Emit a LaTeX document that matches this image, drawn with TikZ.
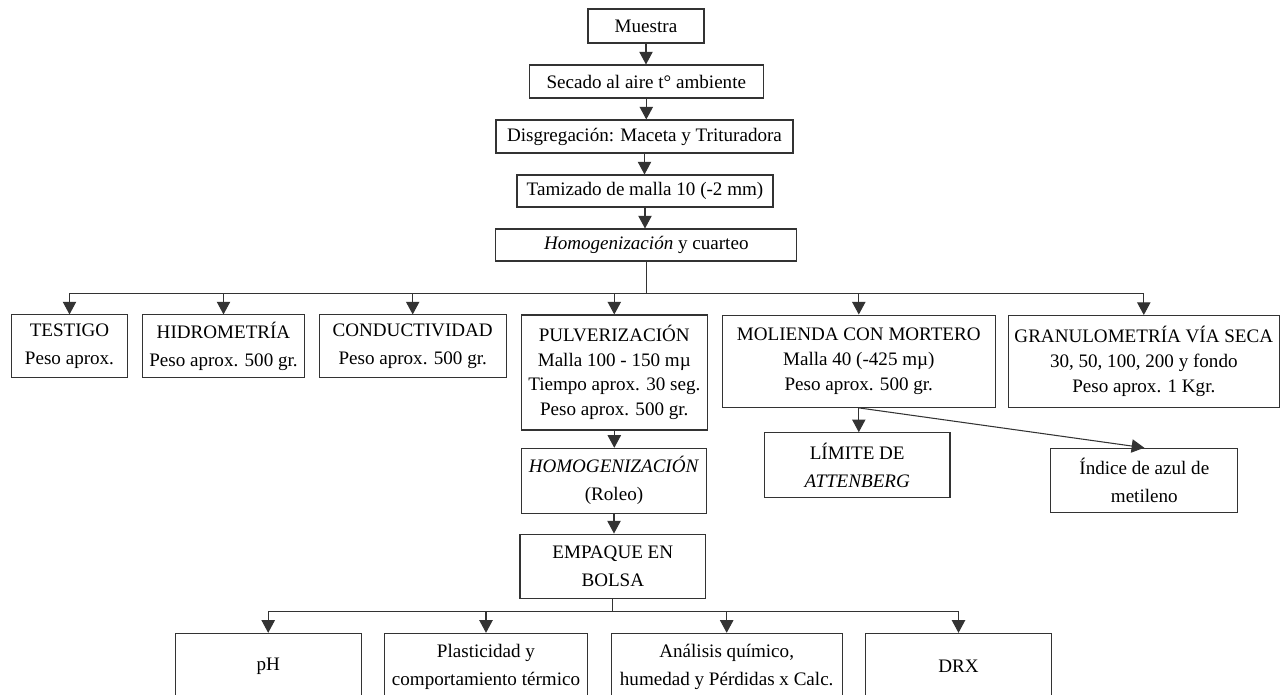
\documentclass[tikz,border=0pt]{standalone}
\usepackage{fontspec}
\setmainfont{Liberation Serif}
\usetikzlibrary{arrows.meta}
\definecolor{linec}{HTML}{333333}
\tikzset{
  box/.style 2 args={draw=linec, line width=0.6pt, minimum width=#1*0.02cm, minimum height=#2*0.02cm,
    inner sep=0pt, align=center, text=black, font=\fontsize{10.86}{14}\selectfont},
  conn/.style={draw=linec, line width=0.6pt},
  arr/.style={conn, -{Triangle[width=7.6pt,length=7.2pt]}}
}
\begin{document}
\begin{tikzpicture}[x=0.02cm,y=-0.02cm]
\clip (0,0) rectangle (1282,694);
% main chain
\node[box={116}{34}] (muestra) at (646,26) {Muestra};
\node[box={234}{33}] (secado) at (646.3,81.5) {Secado al aire t° ambiente};
\node[box={297}{33}] (disg) at (644.5,136.5) {Disgregación: Maceta y Trituradora};
\node[box={256}{32}] (tam) at (645,191) {Tamizado de malla 10 (-2 mm)};
\node[box={301}{32}] (homog) at (646.3,245) {\textit{Homogenización} y cuarteo};
\coordinate (bus) at (0,293.3);
\coordinate (bus2) at (0,611.5);
% first row
\node[box={115.6}{62.7}] (testigo) at (69.5,346.3) {TESTIGO\\[1.5pt]Peso aprox.};
\node[box={161.6}{62.7}] (hidro) at (223.5,346.3) {HIDROMETRÍA\\[1.5pt]Peso aprox. 500 gr.};
\node[box={186.7}{62.7}] (cond) at (412.7,346.3) {CONDUCTIVIDAD\\[1.5pt]Peso aprox. 500 gr.};
\node[box={186.5}{115}] (pulv) at (614.3,372.5) {PULVERIZACIÓN\\Malla 100 - 150 mµ\\Tiempo aprox. 30 seg.\\Peso aprox. 500 gr.};
\node[box={272.5}{92.3}] (molienda) at (858.8,361.2) {MOLIENDA CON MORTERO\\Malla 40 (-425 mµ)\\Peso aprox. 500 gr.};
\node[box={271}{91.8}] (granulo) at (1143.8,361.4) {GRANULOMETRÍA VÍA SECA\\30, 50, 100, 200 y fondo\\Peso aprox. 1 Kgr.};
% second level
\node[box={185.6}{64.6}] (limite) at (857.2,465) {LÍMITE DE\\[2pt]\textit{ATTENBERG}};
\node[box={186.7}{64.2}] (indice) at (1144.3,480.4) {Índice de azul de\\[2pt]metileno};
\node[box={185.5}{64.7}] (homog2) at (614,480.7) {\textit{HOMOGENIZACIÓN}\\[2pt](Roleo)};
\node[box={185.6}{64.3}] (empaque) at (612.8,566.2) {EMPAQUE EN\\[2pt]BOLSA};
% bottom row
\node[box={185.7}{66.7}] (ph) at (268.2,666.7) {pH};
\node[box={202.7}{66.7}] (plast) at (486,666.7) {Plasticidad y\\[2pt]comportamiento térmico};
\node[box={230.7}{66.7}] (anal) at (726.7,666.7) {Análisis químico,\\[2pt]humedad y Pérdidas x Calc.};
\node[box={186.3}{66.7}] (drx) at (958.5,666.7) {DRX};
% connectors main chain
\draw[arr] (muestra.south) -- (muestra.south |- secado.north);
\draw[arr] (secado.south) -- (secado.south |- disg.north);
\draw[arr] (disg.south) -- (disg.south |- tam.north);
\draw[arr] (tam.south) -- (tam.south |- homog.north);
\draw[conn] (homog.south) -- (homog.south |- bus);
\draw[conn] (testigo.north |- bus) -- (granulo.north |- bus);
\foreach \n in {testigo,hidro,cond,pulv,molienda,granulo}
  \draw[arr] (\n.north |- bus) -- (\n.north);
% second level connectors
\draw[arr] (molienda.south) -- (molienda.south |- limite.north);
\draw[arr] (molienda.south) -- (indice.north);
\draw[arr] (pulv.south) -- (pulv.south |- homog2.north);
\draw[arr] (homog2.south) -- (homog2.south |- empaque.north);
\draw[conn] (empaque.south) -- (empaque.south |- bus2);
\draw[conn] (ph.north |- bus2) -- (drx.north |- bus2);
\foreach \n in {ph,plast,anal,drx}
  \draw[arr] (\n.north |- bus2) -- (\n.north);
\end{tikzpicture}
\end{document}
